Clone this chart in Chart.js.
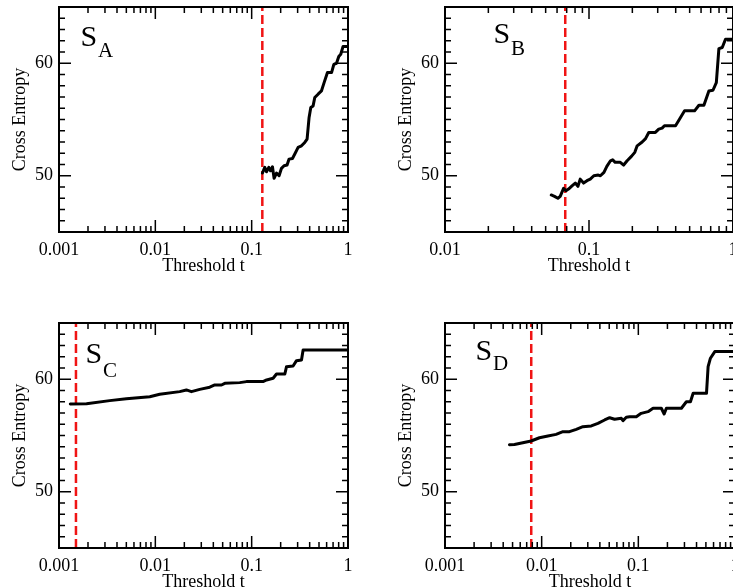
<!DOCTYPE html>
<html><head><meta charset="utf-8">
<script src="https://cdn.jsdelivr.net/npm/chart.js@4.4.1/dist/chart.umd.min.js"></script>
<style>
html,body{margin:0;padding:0;background:#fff;overflow:hidden;width:733px;height:588px;position:relative}
canvas{position:absolute}
</style></head><body>
<canvas id="cA"></canvas><canvas id="cB"></canvas><canvas id="cC"></canvas><canvas id="cD"></canvas>
<script>
// ---- data ----
const tA  = [0.1294,0.1368,0.1425,0.1506,0.1568,0.1644,0.1709,0.1810,0.1926,0.2039,0.2169,0.2331,0.2445,0.2652,0.2803,0.3035,0.3291,0.3559,0.3762,0.3945,0.4109,0.4342,0.452,0.489,0.530,0.565,0.612,0.675,0.713,0.760,0.802,0.841,0.889,1.0];
const ceA = [50.24,50.75,50.35,50.75,50.44,50.8,49.77,50.24,50.0,50.66,50.89,50.95,51.48,51.54,51.93,52.52,52.66,52.96,53.26,55.18,56.07,56.21,56.95,57.25,57.54,58.28,59.17,59.17,59.9,60.0,60.6,60.8,61.5,61.5];

const tB  = [0.0547,0.0576,0.0608,0.0631,0.0666,0.0692,0.0721,0.0762,0.0803,0.0838,0.0869,0.0917,0.0968,0.102,0.108,0.116,0.120,0.127,0.133,0.141,0.146,0.152,0.165,0.174,0.184,0.197,0.208,0.216,0.234,0.247,0.260,0.289,0.305,0.322,0.334,0.399,0.432,0.461,0.541,0.580,0.628,0.680,0.726,0.766,0.798,0.842,0.887,1.0];
const ceB = [48.29,48.17,48.0,48.17,48.88,48.67,48.82,49.1,49.35,49.06,49.7,49.35,49.56,49.7,50.0,50.06,50.0,50.3,50.83,51.33,51.42,51.19,51.19,50.95,51.33,51.72,52.08,52.66,53.0,53.3,53.85,53.85,54.14,54.23,54.44,54.44,55.18,55.77,55.77,56.27,56.27,57.54,57.6,58.28,61.3,61.4,62.13,62.13];

const tC  = [0.00131,0.00193,0.00336,0.0050,0.00875,0.0111,0.0179,0.0210,0.0237,0.0289,0.0367,0.0414,0.0486,0.0526,0.0752,0.0883,0.131,0.143,0.167,0.181,0.221,0.230,0.269,0.292,0.329,0.342,1.0];
const ceC = [57.8,57.83,58.1,58.27,58.45,58.66,58.9,59.05,58.9,59.1,59.29,59.49,59.49,59.64,59.7,59.79,59.79,59.94,60.09,60.47,60.47,61.12,61.18,61.65,61.72,62.6,62.6];

const tD  = [0.00464,0.00523,0.00638,0.00778,0.00949,0.0116,0.0141,0.0166,0.0194,0.0228,0.0267,0.0326,0.0382,0.0448,0.0505,0.0568,0.0667,0.0694,0.0751,0.0813,0.0953,0.107,0.126,0.142,0.173,0.185,0.195,0.279,0.314,0.346,0.369,0.507,0.527,0.557,0.618,1.0];
const ceD = [54.18,54.2,54.36,54.51,54.8,54.96,55.1,55.34,55.34,55.55,55.78,55.85,56.08,56.38,56.58,56.44,56.53,56.32,56.62,56.67,56.67,56.97,57.12,57.42,57.42,56.91,57.42,57.42,58.0,58.0,58.75,58.75,61.12,61.87,62.46,62.46];

const thresholdT = [0.129, 0.0684, 0.0015, 0.0078];   // red dashed lines
const panelLetters = ['A','B','C','D'];
const xTickLabels3 = ['0.001','0.01','0.1','1'];
const xTickLabels2 = ['0.01','0.1','1'];
const yTickLabels  = ['50','60'];
const yMin = 45, yMax = 65, xMax = 1;
const xTitle = 'Threshold t', yTitle = 'Cross Entropy';

// ---- rendering ----
const FAMILY = '"Liberation Serif","Times New Roman",serif';
const PL = 59, PT = 7, PR = 20, PB = 60;

const frameTicks = {
  id: 'frameTicks',
  afterDatasetsDraw(chart, args, o) {
    const {ctx, chartArea: a, scales: {x, y}} = chart;
    ctx.save();
    ctx.strokeStyle = '#000';
    ctx.lineWidth = 1.5;
    ctx.beginPath();
    const lo = Math.floor(Math.log10(x.min) + 1e-9), hi = Math.ceil(Math.log10(x.max) - 1e-9);
    for (let d = lo; d <= hi; d++) {
      for (let k = 1; k < 10; k++) {
        const v = k * Math.pow(10, d);
        const px = x.getPixelForValue(v);
        if (px < a.left + 1 || px > a.right - 1) continue;
        const len = k === 1 ? 12 : 6;
        ctx.moveTo(px, a.bottom); ctx.lineTo(px, a.bottom - len);
        ctx.moveTo(px, a.top); ctx.lineTo(px, a.top + len);
      }
    }
    for (let v = Math.ceil(y.min); v <= y.max; v++) {
      const py = y.getPixelForValue(v);
      if (py < a.top + 1 || py > a.bottom - 1) continue;
      const len = v % 10 === 0 ? 12 : 6;
      ctx.moveTo(a.left, py); ctx.lineTo(a.left + len, py);
      ctx.moveTo(a.right, py); ctx.lineTo(a.right - len, py);
    }
    ctx.stroke();
    ctx.lineWidth = 2;
    ctx.strokeRect(a.left, a.top, a.right - a.left, a.bottom - a.top);
    // panel label S with subscript
    ctx.fillStyle = '#000';
    ctx.textBaseline = 'alphabetic';
    ctx.textAlign = 'left';
    ctx.font = '30px ' + FAMILY;
    const sx = a.left + o.dx, sy = a.top + o.dy;
    ctx.fillText('S', sx, sy);
    ctx.font = '21px ' + FAMILY;
    ctx.fillText(o.letter, sx + o.subDx, sy + o.subDy);
    ctx.restore();
  }
};

function zeroPad(s) { s.paddingTop = 0; s.paddingBottom = 0; s.paddingLeft = 0; s.paddingRight = 0; }

function makeChart(id, geom, t, ce, tStar, xLabels, lab) {
  const cv = document.getElementById(id);
  cv.width = geom.w + PL + PR;
  cv.height = geom.h + PT + PB;
  cv.style.left = (geom.l - PL) + 'px';
  cv.style.top = (geom.t - PT) + 'px';
  const font = {family: FAMILY, size: 18};
  const xMin = parseFloat(xLabels[0]);
  new Chart(cv, {
    type: 'line',
    data: {datasets: [
      {data: t.map((v, i) => ({x: v, y: ce[i]})), borderColor: '#000', borderWidth: 3,
       pointRadius: 0, tension: 0, borderJoinStyle: 'round', borderCapStyle: 'round'},
      {data: [{x: tStar, y: yMin}, {x: tStar, y: yMax}], borderColor: 'rgb(240,20,20)',
       borderWidth: 2.5, borderDash: [9, 4], pointRadius: 0}
    ]},
    options: {
      responsive: false, animation: false, devicePixelRatio: 1,
      layout: {padding: {left: 0, top: PT, right: PR, bottom: 0}},
      plugins: {legend: {display: false}, tooltip: {enabled: false}, frameTicks: lab},
      scales: {
        x: {
          type: 'logarithmic', min: xMin, max: xMax,
          grid: {display: false, drawTicks: false}, border: {display: false},
          afterBuildTicks(s) { s.ticks = xLabels.map(l => ({value: parseFloat(l)})); },
          afterFit(s) { s.height = PB; zeroPad(s); },
          ticks: {padding: 7, autoSkip: false, maxRotation: 0, minRotation: 0, font, color: '#000',
                  callback: (v, i) => xLabels[i]},
          title: {display: true, text: xTitle, font, color: '#000', padding: {top: 0, bottom: 15}}
        },
        y: {
          type: 'linear', min: yMin, max: yMax,
          grid: {display: false, drawTicks: false}, border: {display: false},
          afterBuildTicks(s) { s.ticks = yTickLabels.map(l => ({value: parseFloat(l)})); },
          afterFit(s) { s.width = PL; zeroPad(s); },
          ticks: {padding: 6, font, color: '#000', callback: (v, i) => yTickLabels[i]},
          title: {display: true, text: yTitle, font, color: '#000', padding: {top: 9, bottom: 0}}
        }
      }
    },
    plugins: [frameTicks]
  });
}

makeChart('cA', {l: 59, t: 7, w: 289, h: 225}, tA, ceA, thresholdT[0], xTickLabels3,
  {letter: panelLetters[0], dx: 21.5, dy: 38.5, subDx: 17.5, subDy: 11.5});
makeChart('cB', {l: 445, t: 7, w: 288, h: 225}, tB, ceB, thresholdT[1], xTickLabels2,
  {letter: panelLetters[1], dx: 48.5, dy: 36, subDx: 17.5, subDy: 12});
makeChart('cC', {l: 59, t: 323, w: 289, h: 225}, tC, ceC, thresholdT[2], xTickLabels3,
  {letter: panelLetters[2], dx: 26.5, dy: 40, subDx: 17.5, subDy: 13.5});
makeChart('cD', {l: 445, t: 323, w: 290, h: 225}, tD, ceD, thresholdT[3], xTickLabels3,
  {letter: panelLetters[3], dx: 30.5, dy: 37, subDx: 17.5, subDy: 10});
</script>
</body></html>
